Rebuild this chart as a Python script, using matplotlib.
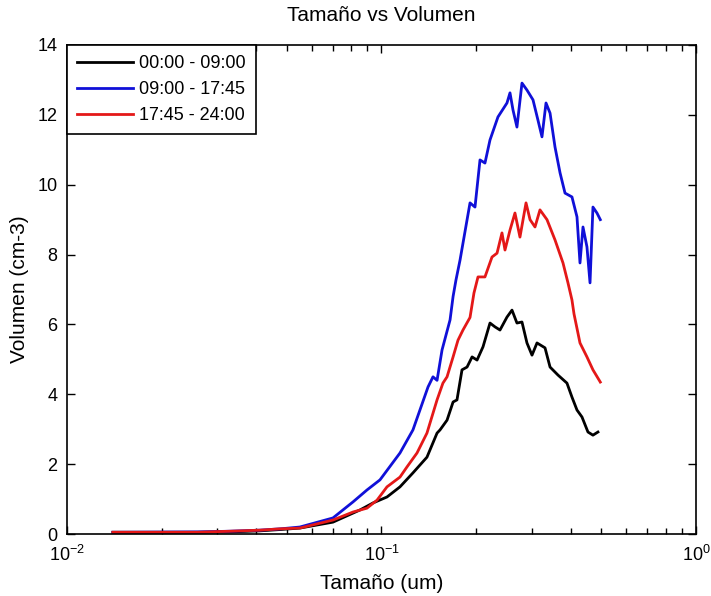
import matplotlib

matplotlib.use("Agg")
import matplotlib.pyplot as plt

plt.rcParams["font.family"] = ["Liberation Sans", "DejaVu Sans"]

# size (um) / volume (cm-3)
x_night = [0.014, 0.026, 0.033, 0.041, 0.048, 0.055, 0.0701, 0.0855, 0.0940, 0.1041,
           0.1145, 0.1259, 0.1395, 0.1502, 0.1535, 0.1616, 0.1689, 0.1738, 0.1803, 0.1871,
           0.1941, 0.2013, 0.2103, 0.2213, 0.2296, 0.2381, 0.2506, 0.2600, 0.2696, 0.2797,
           0.2901, 0.3010, 0.3122, 0.3311, 0.3435, 0.3641, 0.3888, 0.4033, 0.4184, 0.4340,
           0.4534, 0.4703, 0.4878]
y_night = [0.05, 0.05, 0.06, 0.09, 0.13, 0.17, 0.34, 0.69, 0.89, 1.06,
           1.35, 1.75, 2.20, 2.89, 2.98, 3.26, 3.78, 3.84, 4.70, 4.78,
           5.07, 4.98, 5.36, 6.04, 5.93, 5.84, 6.21, 6.41, 6.04, 6.07,
           5.47, 5.12, 5.47, 5.33, 4.78, 4.55, 4.32, 3.92, 3.55, 3.35,
           2.92, 2.83, 2.92]

x_day = [0.014, 0.026, 0.033, 0.041, 0.048, 0.055, 0.0701, 0.0812, 0.0899, 0.0989,
         0.1145, 0.1259, 0.1406, 0.1458, 0.1502, 0.1558, 0.1652, 0.1689, 0.1725, 0.1777,
         0.1912, 0.1983, 0.2057, 0.2133, 0.2213, 0.2346, 0.2506, 0.2562, 0.2619, 0.2696,
         0.2797, 0.2901, 0.3032, 0.3144, 0.3238, 0.3335, 0.3435, 0.3562, 0.3696, 0.3833,
         0.4033, 0.4184, 0.4277, 0.4372, 0.4501, 0.4603, 0.4703, 0.4843, 0.4963]
y_day = [0.05, 0.06, 0.08, 0.11, 0.15, 0.20, 0.46, 0.92, 1.26, 1.55,
         2.32, 2.98, 4.21, 4.50, 4.40, 5.27, 6.13, 6.80, 7.27, 7.84,
         9.48, 9.36, 10.71, 10.62, 11.28, 11.94, 12.34, 12.63, 12.14, 11.65,
         12.91, 12.71, 12.43, 11.85, 11.37, 12.34, 12.05, 11.08, 10.34, 9.76,
         9.65, 9.08, 7.76, 8.79, 8.22, 7.19, 9.36, 9.19, 9.00]

x_evening = [0.014, 0.026, 0.033, 0.041, 0.048, 0.055, 0.0701, 0.0812, 0.0899, 0.0968,
             0.1041, 0.1145, 0.1205, 0.1297, 0.1395, 0.1502, 0.1568, 0.1616, 0.1689, 0.1751,
             0.1816, 0.1912, 0.1968, 0.2027, 0.2133, 0.2246, 0.2330, 0.2416, 0.2470, 0.2562,
             0.2657, 0.2756, 0.2881, 0.2967, 0.3077, 0.3191, 0.3359, 0.3562, 0.3777, 0.3917,
             0.4033, 0.4094, 0.4277, 0.4501, 0.4703, 0.4963]
y_evening = [0.05, 0.05, 0.08, 0.11, 0.15, 0.17, 0.40, 0.63, 0.74, 0.97,
             1.35, 1.63, 1.92, 2.32, 2.89, 3.84, 4.32, 4.50, 5.07, 5.55,
             5.84, 6.20, 6.90, 7.36, 7.36, 7.93, 8.04, 8.62, 8.13, 8.70,
             9.19, 8.50, 9.48, 9.00, 8.79, 9.28, 9.00, 8.42, 7.76, 7.19,
             6.70, 6.30, 5.47, 5.07, 4.70, 4.35]

labels = ["00:00 - 09:00", "09:00 - 17:45", "17:45 - 24:00"]
colors = ["black", "#1010d8", "#e41818"]

fig = plt.figure(figsize=(7.11, 5.96), dpi=100)
ax = fig.add_axes([0.0942, 0.104, 0.8847, 0.8205])

for xs, ys, lab, c in zip([x_night, x_day, x_evening], [y_night, y_day, y_evening], labels, colors):
    ax.plot(xs, ys, color=c, lw=2.0, label=lab)

ax.set_xscale("log")
ax.set_xlim(1e-2, 1)
ax.set_ylim(0, 14)
ax.set_yticks(range(0, 15, 2))
ax.tick_params(which="both", direction="in", top=True, right=True, labelsize=13, width=1)
ax.tick_params(which="major", length=6)
ax.tick_params(axis="x", which="major", pad=8)
ax.tick_params(axis="y", which="major", pad=7)
ax.tick_params(which="minor", length=4)
for s in ax.spines.values():
    s.set_linewidth(1.2)

ax.set_title("Tamaño vs Volumen", fontsize=15, pad=17)
ax.set_xlabel("Tamaño (um)", fontsize=15, labelpad=6)
ax.set_ylabel("Volumen (cm-3)", fontsize=15, labelpad=6)

leg = ax.legend(loc="upper left", borderaxespad=0, fancybox=False, framealpha=1,
                edgecolor="black", fontsize=13, handlelength=3.1, handletextpad=0.35,
                labelspacing=0.5, borderpad=0.55)
leg.get_frame().set_linewidth(1.2)

fig.savefig("out.png", dpi=100)
